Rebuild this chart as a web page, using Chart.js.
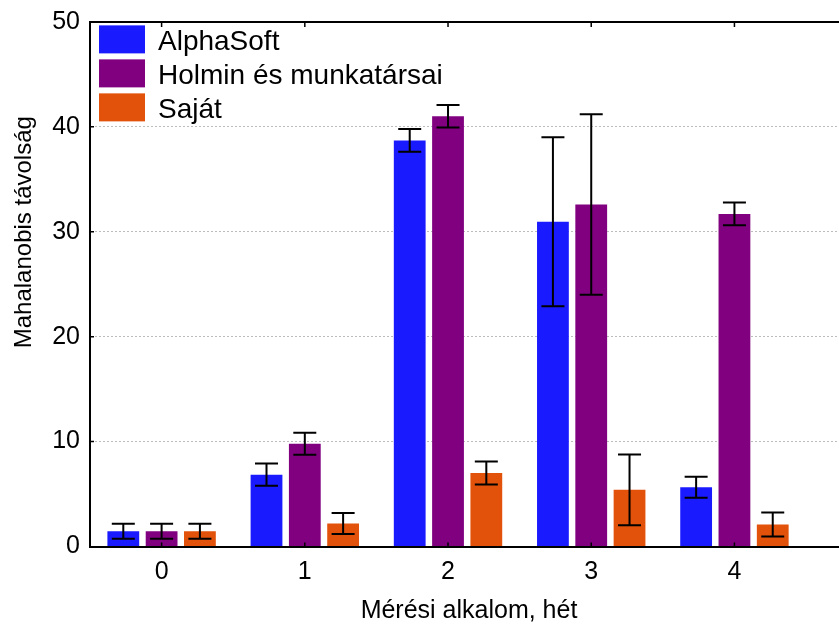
<!DOCTYPE html>
<html>
<head>
<meta charset="utf-8">
<script src="https://cdn.jsdelivr.net/npm/chart.js@4.4.1/dist/chart.umd.min.js"></script>
<style>
  html, body { margin: 0; padding: 0; background: #fff; overflow: hidden; }
  #wrap { width: 848px; height: 625px; }
</style>
</head>
<body>
<div id="wrap"><canvas id="c" width="848" height="625"></canvas></div>
<script>
// Measurement occasions (weeks) and the three series with their error half-widths
const categories = ['0', '1', '2', '3', '4'];
const seriesNames = ['AlphaSoft', 'Holmin és munkatársai', 'Saját'];
const alphaSoft    = [1.45, 6.85, 38.7, 30.95, 5.65];
const alphaSoftErr = [0.72, 1.05, 1.08, 8.05, 1.0];
const holmin       = [1.45, 9.8, 41.0, 32.6, 31.7];
const holminErr    = [0.72, 1.05, 1.07, 8.6, 1.08];
const sajat        = [1.45, 2.2, 7.0, 5.4, 2.1];
const sajatErr     = [0.72, 1.0, 1.1, 3.38, 1.15];
const yTicks = [0, 10, 20, 30, 40, 50];

const colors = ['#1a1aff', '#800080', '#e2520a'];
const FONT = "'Liberation Sans', Arial, sans-serif";

// Error bars with caps, drawn on top of every bar
const errorBars = {
  id: 'errorBars',
  afterDatasetsDraw(chart) {
    const { ctx } = chart;
    const y = chart.scales.y;
    ctx.save();
    ctx.strokeStyle = '#000';
    ctx.lineWidth = 2;
    chart.data.datasets.forEach((ds, di) => {
      const meta = chart.getDatasetMeta(di);
      meta.data.forEach((bar, i) => {
        const v = ds.data[i], e = ds.errors[i];
        if (v == null || e == null) return;
        const yt = y.getPixelForValue(v + e);
        const yb = y.getPixelForValue(v - e);
        const x = bar.x, hw = 11.5;
        ctx.beginPath();
        ctx.moveTo(x, yt); ctx.lineTo(x, yb);
        ctx.moveTo(x - hw, yt); ctx.lineTo(x + hw, yt);
        ctx.moveTo(x - hw, yb); ctx.lineTo(x + hw, yb);
        ctx.stroke();
      });
    });
    ctx.restore();
  }
};

// Top frame line, inward tick marks, legend and the vertical axis title
const frameAndLegend = {
  id: 'frameAndLegend',
  afterDraw(chart) {
    const { ctx, chartArea: a } = chart;
    const xs = chart.scales.x, ys = chart.scales.y;
    ctx.save();
    ctx.strokeStyle = '#000';
    ctx.lineWidth = 2;
    ctx.beginPath();
    ctx.moveTo(a.left - 1, a.top);
    ctx.lineTo(a.right, a.top);
    ctx.stroke();

    ctx.lineWidth = 1.5;
    ctx.beginPath();
    categories.forEach((c, i) => {
      const px = xs.getPixelForValue(i);
      ctx.moveTo(px, a.bottom); ctx.lineTo(px, a.bottom - 4);
      ctx.moveTo(px, a.top); ctx.lineTo(px, a.top + 5);
    });
    yTicks.forEach(v => {
      if (v === 0 || v === 50) return;
      const py = ys.getPixelForValue(v);
      ctx.moveTo(a.left, py); ctx.lineTo(a.left + 4, py);
    });
    ctx.stroke();

    // legend in the upper-left corner of the plot
    ctx.font = '28px ' + FONT;
    ctx.textAlign = 'left';
    ctx.textBaseline = 'alphabetic';
    chart.data.datasets.forEach((ds, i) => {
      const bx = a.left + 9, by = a.top + 3.5 + i * 34;
      ctx.fillStyle = ds.backgroundColor;
      ctx.fillRect(bx, by, 46, 28);
      ctx.fillStyle = '#000';
      ctx.fillText(ds.label, bx + 59, by + 25);
    });

    // vertical axis title
    ctx.save();
    ctx.translate(24, (a.top + a.bottom) / 2 - 52);
    ctx.rotate(-Math.PI / 2);
    ctx.font = '24px ' + FONT;
    ctx.textAlign = 'center';
    ctx.textBaseline = 'middle';
    ctx.fillStyle = '#000';
    ctx.fillText('Mahalanobis távolság', 0, 0);
    ctx.restore();
    ctx.restore();
  }
};

const values = [alphaSoft, holmin, sajat];
const errors = [alphaSoftErr, holminErr, sajatErr];

new Chart(document.getElementById('c'), {
  type: 'bar',
  data: {
    labels: categories.map((c, i) => i),
    datasets: seriesNames.map((name, i) => ({
      label: name,
      data: values[i],
      errors: errors[i],
      backgroundColor: colors[i],
      borderWidth: 0,
      categoryPercentage: 0.8024,
      barPercentage: 0.83
    }))
  },
  options: {
    responsive: false,
    animation: false,
    events: [],
    layout: { padding: { top: 19, right: 0, bottom: 0, left: 0 } },
    plugins: { legend: { display: false }, tooltip: { enabled: false } },
    scales: {
      x: {
        type: 'linear',
        min: -0.5,
        max: 4.793,
        offset: false,
        afterBuildTicks: s => { s.ticks = categories.map((c, i) => ({ value: i })); },
        ticks: {
          callback: v => categories[v],
          font: { family: FONT, size: 25 },
          color: '#000',
          padding: 10.5,
          maxRotation: 0,
          autoSkip: false
        },
        grid: { display: false, drawTicks: false },
        border: { display: true, color: '#000', width: 2 },
        title: {
          display: true,
          text: 'Mérési alkalom, hét',
          font: { family: FONT, size: 25, lineHeight: 1 },
          color: '#000',
          padding: { top: 1, bottom: 1.5 }
        }
      },
      y: {
        min: 0,
        max: 50,
        afterBuildTicks: s => { s.ticks = yTicks.map(v => ({ value: v })); },
        afterFit: s => { s.width = 90; },
        ticks: {
          font: { family: FONT, size: 25, lineHeight: 0.95 },
          color: '#000',
          padding: 10
        },
        grid: {
          drawTicks: false,
          lineWidth: 1,
          color: c => (c.tick && (c.tick.value === 0 || c.tick.value === 50)) ? 'rgba(0,0,0,0)' : '#bdbdbd'
        },
        border: { display: true, color: '#000', width: 2, dash: [2, 2] }
      }
    }
  },
  plugins: [errorBars, frameAndLegend]
});
</script>
</body>
</html>
